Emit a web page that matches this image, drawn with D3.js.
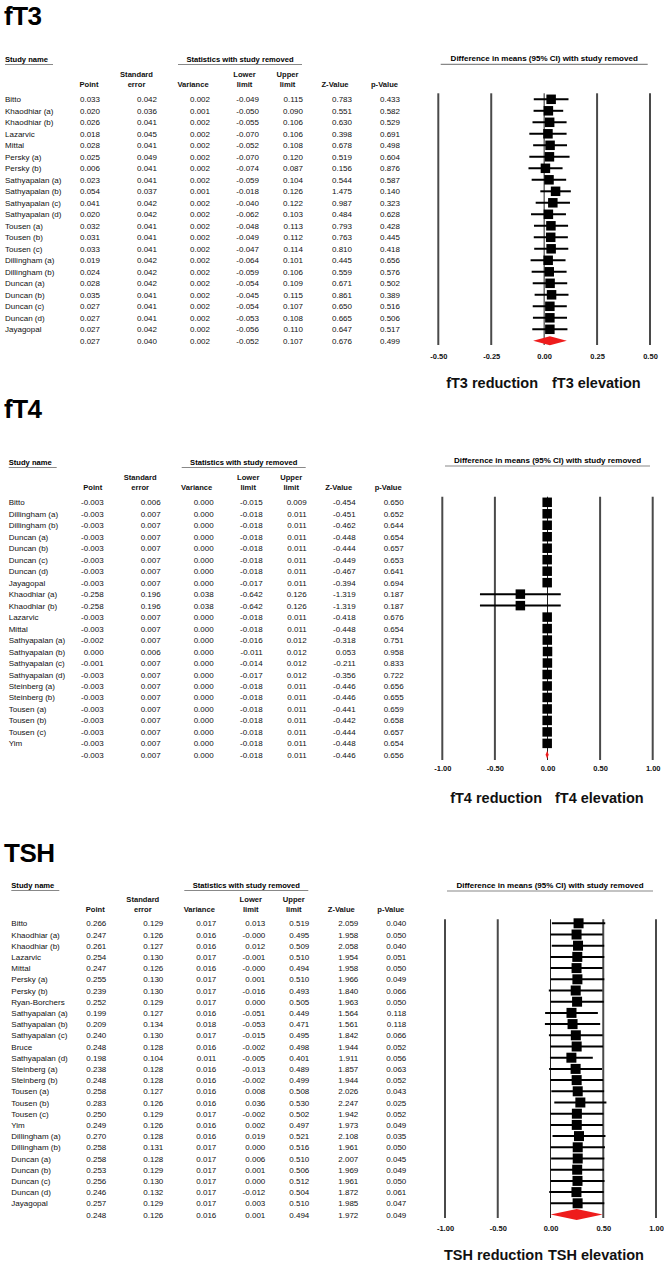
<!DOCTYPE html>
<html>
<head>
<meta charset="utf-8">
<script src="https://cdn.jsdelivr.net/npm/d3@7"></script>
<style>
  body { margin: 0; background: #fff; }
  svg { display: block; font-family: "Liberation Sans", Arial, sans-serif; }
</style>
</head>
<body>
<div id="chart"></div>
<script>
//// DATA ////
// last value of every value array is the pooled (overall) row

// fT3
var ft3Names = ["Bitto", "Khaodhiar (a)", "Khaodhiar (b)", "Lazarvic", "Mittal", "Persky (a)", "Persky (b)",
  "Sathyapalan (a)", "Sathyapalan (b)", "Sathyapalan (c)", "Sathyapalan (d)", "Tousen (a)", "Tousen (b)",
  "Tousen (c)", "Dillingham (a)", "Dillingham (b)", "Duncan (a)", "Duncan (b)", "Duncan (c)", "Duncan (d)", "Jayagopal"];
var ft3Point = [0.033, 0.020, 0.026, 0.018, 0.028, 0.025, 0.006, 0.023, 0.054, 0.041, 0.020, 0.032, 0.031, 0.033, 0.019, 0.024, 0.028, 0.035, 0.027, 0.027, 0.027, 0.027];
var ft3SE = [0.042, 0.036, 0.041, 0.045, 0.041, 0.049, 0.041, 0.041, 0.037, 0.042, 0.042, 0.041, 0.041, 0.041, 0.042, 0.042, 0.042, 0.041, 0.041, 0.041, 0.042, 0.040];
var ft3Var = [0.002, 0.001, 0.002, 0.002, 0.002, 0.002, 0.002, 0.002, 0.001, 0.002, 0.002, 0.002, 0.002, 0.002, 0.002, 0.002, 0.002, 0.002, 0.002, 0.002, 0.002, 0.002];
var ft3Lower = [-0.049, -0.050, -0.055, -0.070, -0.052, -0.070, -0.074, -0.059, -0.018, -0.040, -0.062, -0.048, -0.049, -0.047, -0.064, -0.059, -0.054, -0.045, -0.054, -0.053, -0.056, -0.052];
var ft3Upper = [0.115, 0.090, 0.106, 0.106, 0.108, 0.120, 0.087, 0.104, 0.126, 0.122, 0.103, 0.113, 0.112, 0.114, 0.101, 0.106, 0.109, 0.115, 0.107, 0.108, 0.110, 0.107];
var ft3Z = [0.783, 0.551, 0.630, 0.398, 0.678, 0.519, 0.156, 0.544, 1.475, 0.987, 0.484, 0.793, 0.763, 0.810, 0.445, 0.559, 0.671, 0.861, 0.650, 0.665, 0.647, 0.676];
var ft3P = [0.433, 0.582, 0.529, 0.691, 0.498, 0.604, 0.876, 0.587, 0.140, 0.323, 0.628, 0.428, 0.445, 0.418, 0.656, 0.576, 0.502, 0.389, 0.516, 0.506, 0.517, 0.499];
var ft3Ticks = [-0.50, -0.25, 0.00, 0.25, 0.50];

// fT4
var ft4Names = ["Bitto", "Dillingham (a)", "Dillingham (b)", "Duncan (a)", "Duncan (b)", "Duncan (c)", "Duncan (d)",
  "Jayagopal", "Khaodhiar (a)", "Khaodhiar (b)", "Lazarvic", "Mittal", "Sathyapalan (a)", "Sathyapalan (b)",
  "Sathyapalan (c)", "Sathyapalan (d)", "Steinberg (a)", "Steinberg (b)", "Tousen (a)", "Tousen (b)", "Tousen (c)", "Yim"];
var ft4Point = [-0.003, -0.003, -0.003, -0.003, -0.003, -0.003, -0.003, -0.003, -0.258, -0.258, -0.003, -0.003, -0.002, 0.000, -0.001, -0.003, -0.003, -0.003, -0.003, -0.003, -0.003, -0.003, -0.003];
var ft4SE = [0.006, 0.007, 0.007, 0.007, 0.007, 0.007, 0.007, 0.007, 0.196, 0.196, 0.007, 0.007, 0.007, 0.006, 0.007, 0.007, 0.007, 0.007, 0.007, 0.007, 0.007, 0.007, 0.007];
var ft4Var = [0.000, 0.000, 0.000, 0.000, 0.000, 0.000, 0.000, 0.000, 0.038, 0.038, 0.000, 0.000, 0.000, 0.000, 0.000, 0.000, 0.000, 0.000, 0.000, 0.000, 0.000, 0.000, 0.000];
var ft4Lower = [-0.015, -0.018, -0.018, -0.018, -0.018, -0.018, -0.018, -0.017, -0.642, -0.642, -0.018, -0.018, -0.016, -0.011, -0.014, -0.017, -0.018, -0.018, -0.018, -0.018, -0.018, -0.018, -0.018];
var ft4Upper = [0.009, 0.011, 0.011, 0.011, 0.011, 0.011, 0.011, 0.011, 0.126, 0.126, 0.011, 0.011, 0.012, 0.012, 0.012, 0.012, 0.011, 0.011, 0.011, 0.011, 0.011, 0.011, 0.011];
var ft4Z = [-0.454, -0.451, -0.462, -0.448, -0.444, -0.449, -0.467, -0.394, -1.319, -1.319, -0.418, -0.448, -0.318, 0.053, -0.211, -0.356, -0.446, -0.446, -0.441, -0.442, -0.444, -0.448, -0.446];
var ft4P = [0.650, 0.652, 0.644, 0.654, 0.657, 0.653, 0.641, 0.694, 0.187, 0.187, 0.676, 0.654, 0.751, 0.958, 0.833, 0.722, 0.656, 0.655, 0.659, 0.658, 0.657, 0.654, 0.656];
var ft4Ticks = [-1.00, -0.50, 0.00, 0.50, 1.00];

// TSH
var tshNames = ["Bitto", "Khaodhiar (a)", "Khaodhiar (b)", "Lazarvic", "Mittal", "Persky (a)", "Persky (b)",
  "Ryan-Borchers", "Sathyapalan (a)", "Sathyapalan (b)", "Sathyapalan (c)", "Bruce", "Sathyapalan (d)",
  "Steinberg (a)", "Steinberg (b)", "Tousen (a)", "Tousen (b)", "Tousen (c)", "Yim", "Dillingham (a)",
  "Dillingham (b)", "Duncan (a)", "Duncan (b)", "Duncan (c)", "Duncan (d)", "Jayagopal"];
var tshPoint = [0.266, 0.247, 0.261, 0.254, 0.247, 0.255, 0.239, 0.252, 0.199, 0.209, 0.240, 0.248, 0.198, 0.238, 0.248, 0.258, 0.283, 0.250, 0.249, 0.270, 0.258, 0.258, 0.253, 0.256, 0.246, 0.257, 0.248];
var tshSE = [0.129, 0.126, 0.127, 0.130, 0.126, 0.130, 0.130, 0.129, 0.127, 0.134, 0.130, 0.128, 0.104, 0.128, 0.128, 0.127, 0.126, 0.129, 0.126, 0.128, 0.131, 0.128, 0.129, 0.130, 0.132, 0.129, 0.126];
var tshVar = [0.017, 0.016, 0.016, 0.017, 0.016, 0.017, 0.017, 0.017, 0.016, 0.018, 0.017, 0.016, 0.011, 0.016, 0.016, 0.016, 0.016, 0.017, 0.016, 0.016, 0.017, 0.017, 0.017, 0.017, 0.017, 0.017, 0.016];
var tshLower = [0.013, -0.000, 0.012, -0.001, -0.000, 0.001, -0.016, 0.000, -0.051, -0.053, -0.015, -0.002, -0.005, -0.013, -0.002, 0.008, 0.036, -0.002, 0.002, 0.019, 0.000, 0.006, 0.001, 0.000, -0.012, 0.003, 0.001];
var tshUpper = [0.519, 0.495, 0.509, 0.510, 0.494, 0.510, 0.493, 0.505, 0.449, 0.471, 0.495, 0.498, 0.401, 0.489, 0.499, 0.508, 0.530, 0.502, 0.497, 0.521, 0.516, 0.510, 0.506, 0.512, 0.504, 0.510, 0.494];
var tshZ = [2.059, 1.958, 2.058, 1.954, 1.958, 1.966, 1.840, 1.963, 1.564, 1.561, 1.842, 1.944, 1.911, 1.857, 1.944, 2.026, 2.247, 1.942, 1.973, 2.108, 1.961, 2.007, 1.969, 1.961, 1.872, 1.985, 1.972];
var tshP = [0.040, 0.050, 0.040, 0.051, 0.050, 0.049, 0.066, 0.050, 0.118, 0.118, 0.066, 0.052, 0.056, 0.063, 0.052, 0.043, 0.025, 0.052, 0.049, 0.035, 0.050, 0.045, 0.049, 0.050, 0.061, 0.047, 0.049];
var tshTicks = [-1.00, -0.50, 0.00, 0.50, 1.00];

//// SET UP ////

var svgWidth = 664;
var svgHeight = 1261;

var svg = d3.select("#chart")
  .append("svg")
  .attr("width", svgWidth)
  .attr("height", svgHeight);

svg.append("rect")
  .attr("width", svgWidth)
  .attr("height", svgHeight)
  .attr("fill", "#fff");

// keeps "-0.000" and uses a plain hyphen
function fmt3(v) {
  return (v < 0 || Object.is(v, -0) ? "-" : "") + Math.abs(v).toFixed(3);
}
function fmt2(v) {
  return (v < 0 ? "-" : "") + Math.abs(v).toFixed(2);
}

// table columns: right edge of the numbers, header centre
var columns = [
  { right: 100, hx: 89,    head: ["", "Point"] },
  { right: 157, hx: 136.5, head: ["Standard", "error"] },
  { right: 210, hx: 193,   head: ["", "Variance"] },
  { right: 259, hx: 244.5, head: ["Lower", "limit"] },
  { right: 303, hx: 287.5, head: ["Upper", "limit"] },
  { right: 352, hx: 335,   head: ["", "Z-Value"] },
  { right: 400, hx: 384.5, head: ["", "p-Value"] }
];

function drawPanel(p) {
  var n = p.names.length;
  var values = [p.point, p.se, p.variance, p.lower, p.upper, p.z, p.p];

  // title
  svg.append("text")
    .attr("x", 4)
    .attr("y", p.titleY)
    .attr("font-size", 26)
    .attr("font-weight", "bold")
    .attr("letter-spacing", -0.5)
    .text(p.title);

  var table = svg.append("g")
    .attr("transform", `translate(${p.dx}, 0)`);

  // group headers
  table.append("text")
    .attr("x", 5)
    .attr("y", p.studyY)
    .attr("font-size", 7.6)
    .attr("font-weight", "bold")
    .text("Study name");
  table.append("line")
    .attr("x1", 5).attr("x2", 53)
    .attr("y1", p.studyY + 3).attr("y2", p.studyY + 3)
    .attr("stroke", "#888").attr("stroke-width", 1.2);

  table.append("text")
    .attr("x", 240)
    .attr("y", p.studyY)
    .attr("text-anchor", "middle")
    .attr("font-size", 7.6)
    .attr("font-weight", "bold")
    .text("Statistics with study removed");
  table.append("line")
    .attr("x1", 178).attr("x2", 302)
    .attr("y1", p.studyY + 3).attr("y2", p.studyY + 3)
    .attr("stroke", "#888").attr("stroke-width", 1.2);

  // column headers
  columns.forEach(function(c) {
    c.head.forEach(function(h, k) {
      if (!h) return;
      table.append("text")
        .attr("x", c.hx)
        .attr("y", k === 0 ? p.head1Y : p.head1Y + 10)
        .attr("text-anchor", "middle")
        .attr("font-size", 7.6)
        .attr("font-weight", "bold")
        .attr("fill", "#111")
        .text(h);
    });
  });

  var yScale = d3.scaleLinear()
    .domain([0, n])
    .range([p.rowY0, p.rowY0 + n * p.rowStep]);

  // study names
  table.selectAll(null)
    .data(p.names)
    .enter()
    .append("text")
    .attr("x", 5)
    .attr("y", (d, i) => yScale(i) + 3)
    .attr("font-size", 8)
    .attr("fill", "#111")
    .text(d => d);

  // numbers
  columns.forEach(function(c, j) {
    table.selectAll(null)
      .data(values[j])
      .enter()
      .append("text")
      .attr("x", c.right)
      .attr("y", (d, i) => yScale(i) + 3)
      .attr("text-anchor", "end")
      .attr("font-size", 8)
      .attr("fill", "#111")
      .text(d => fmt3(d));
  });

  //// PLOT ////
  var xScale = d3.scaleLinear()
    .domain(p.domain)
    .range(p.plotX);

  svg.append("text")
    .attr("x", (p.headX[0] + p.headX[1]) / 2)
    .attr("y", p.headY)
    .attr("text-anchor", "middle")
    .attr("font-size", 8)
    .attr("font-weight", "bold")
    .text("Difference in means (95% CI) with study removed");
  svg.append("line")
    .attr("x1", p.headX[0]).attr("x2", p.headX[1])
    .attr("y1", p.headY + 3).attr("y2", p.headY + 3)
    .attr("stroke", "#888").attr("stroke-width", 1.2);

  // reference lines
  svg.selectAll(null)
    .data(p.ticks)
    .enter()
    .append("line")
    .attr("x1", d => xScale(d))
    .attr("x2", d => xScale(d))
    .attr("y1", p.plotTop)
    .attr("y2", p.plotBottom)
    .attr("stroke", d => d === 0 ? "#222" : "#4a4a4a")
    .attr("stroke-width", d => d === 0 ? 1 : 2);

  // tick labels
  var axis = svg.append("g")
    .attr("transform", `translate(0, ${p.tickY})`)
    .call(d3.axisBottom(xScale).tickValues(p.ticks).tickFormat(fmt2).tickSize(0));
  axis.select(".domain").remove();
  axis.selectAll("text")
    .attr("y", 0)
    .attr("dy", 0)
    .attr("font-family", "Liberation Sans, Arial, sans-serif")
    .attr("font-size", 7.5)
    .attr("font-weight", "bold")
    .attr("fill", "#111");

  var studies = d3.range(n);

  // confidence intervals
  svg.selectAll(null)
    .data(studies)
    .enter()
    .append("line")
    .attr("x1", i => xScale(p.lower[i]))
    .attr("x2", i => xScale(p.upper[i]))
    .attr("y1", i => yScale(i))
    .attr("y2", i => yScale(i))
    .attr("stroke", "#000")
    .attr("stroke-width", 2);

  // point estimates
  svg.selectAll(null)
    .data(studies)
    .enter()
    .append("rect")
    .attr("x", i => xScale(p.point[i]) - p.sq / 2)
    .attr("y", i => yScale(i) - p.sq / 2)
    .attr("width", p.sq)
    .attr("height", p.sq)
    .attr("fill", "#000");

  // pooled diamond
  var yd = yScale(n);
  var h = p.diaH / 2;
  svg.append("polygon")
    .attr("points", [
      [xScale(p.lower[n]), yd],
      [xScale(p.point[n]), yd - h],
      [xScale(p.upper[n]), yd],
      [xScale(p.point[n]), yd + h]
    ].map(q => q.join(",")).join(" "))
    .attr("fill", "#ee1c1c");

  // direction labels
  svg.append("text")
    .attr("x", p.redEnd)
    .attr("y", p.footY)
    .attr("text-anchor", "end")
    .attr("font-size", p.footSize)
    .attr("font-weight", "bold")
    .attr("fill", "#111")
    .text(p.title + " reduction");
  svg.append("text")
    .attr("x", p.eleStart)
    .attr("y", p.footY)
    .attr("font-size", p.footSize)
    .attr("font-weight", "bold")
    .attr("fill", "#111")
    .text(p.title + " elevation");
}

drawPanel({
  title: "fT3", names: ft3Names,
  point: ft3Point, se: ft3SE, variance: ft3Var, lower: ft3Lower, upper: ft3Upper, z: ft3Z, p: ft3P,
  ticks: ft3Ticks, domain: [-0.5, 0.5], plotX: [438.3, 650],
  titleY: 25, dx: 0, studyY: 61.5, head1Y: 77, rowY0: 99.3, rowStep: 11.5,
  headX: [440.7, 647.7], headY: 61.3, plotTop: 93.3, plotBottom: 345, tickY: 358.5,
  sq: 9.5, diaH: 9, footY: 388, footSize: 14.5, redEnd: 538, eleStart: 552
});

drawPanel({
  title: "fT4", names: ft4Names,
  point: ft4Point, se: ft4SE, variance: ft4Var, lower: ft4Lower, upper: ft4Upper, z: ft4Z, p: ft4P,
  ticks: ft4Ticks, domain: [-1, 1], plotX: [442.3, 652.7],
  titleY: 418, dx: 3.7, studyY: 464.5, head1Y: 480, rowY0: 502.3, rowStep: 11.48,
  headX: [445, 650], headY: 463, plotTop: 496.7, plotBottom: 760, tickY: 771,
  sq: 9.5, diaH: 8, footY: 802.5, footSize: 14.5, redEnd: 542, eleStart: 555
});

drawPanel({
  title: "TSH", names: tshNames,
  point: tshPoint, se: tshSE, variance: tshVar, lower: tshLower, upper: tshUpper, z: tshZ, p: tshP,
  ticks: tshTicks, domain: [-1, 1], plotX: [445, 656],
  titleY: 862, dx: 6.3, studyY: 887.5, head1Y: 902.3, rowY0: 923.3, rowStep: 11.2,
  headX: [447, 653], headY: 888, plotTop: 919.3, plotBottom: 1218, tickY: 1231,
  sq: 10, diaH: 11, footY: 1260, footSize: 14.5, redEnd: 543, eleStart: 548
});
</script>
</body>
</html>
